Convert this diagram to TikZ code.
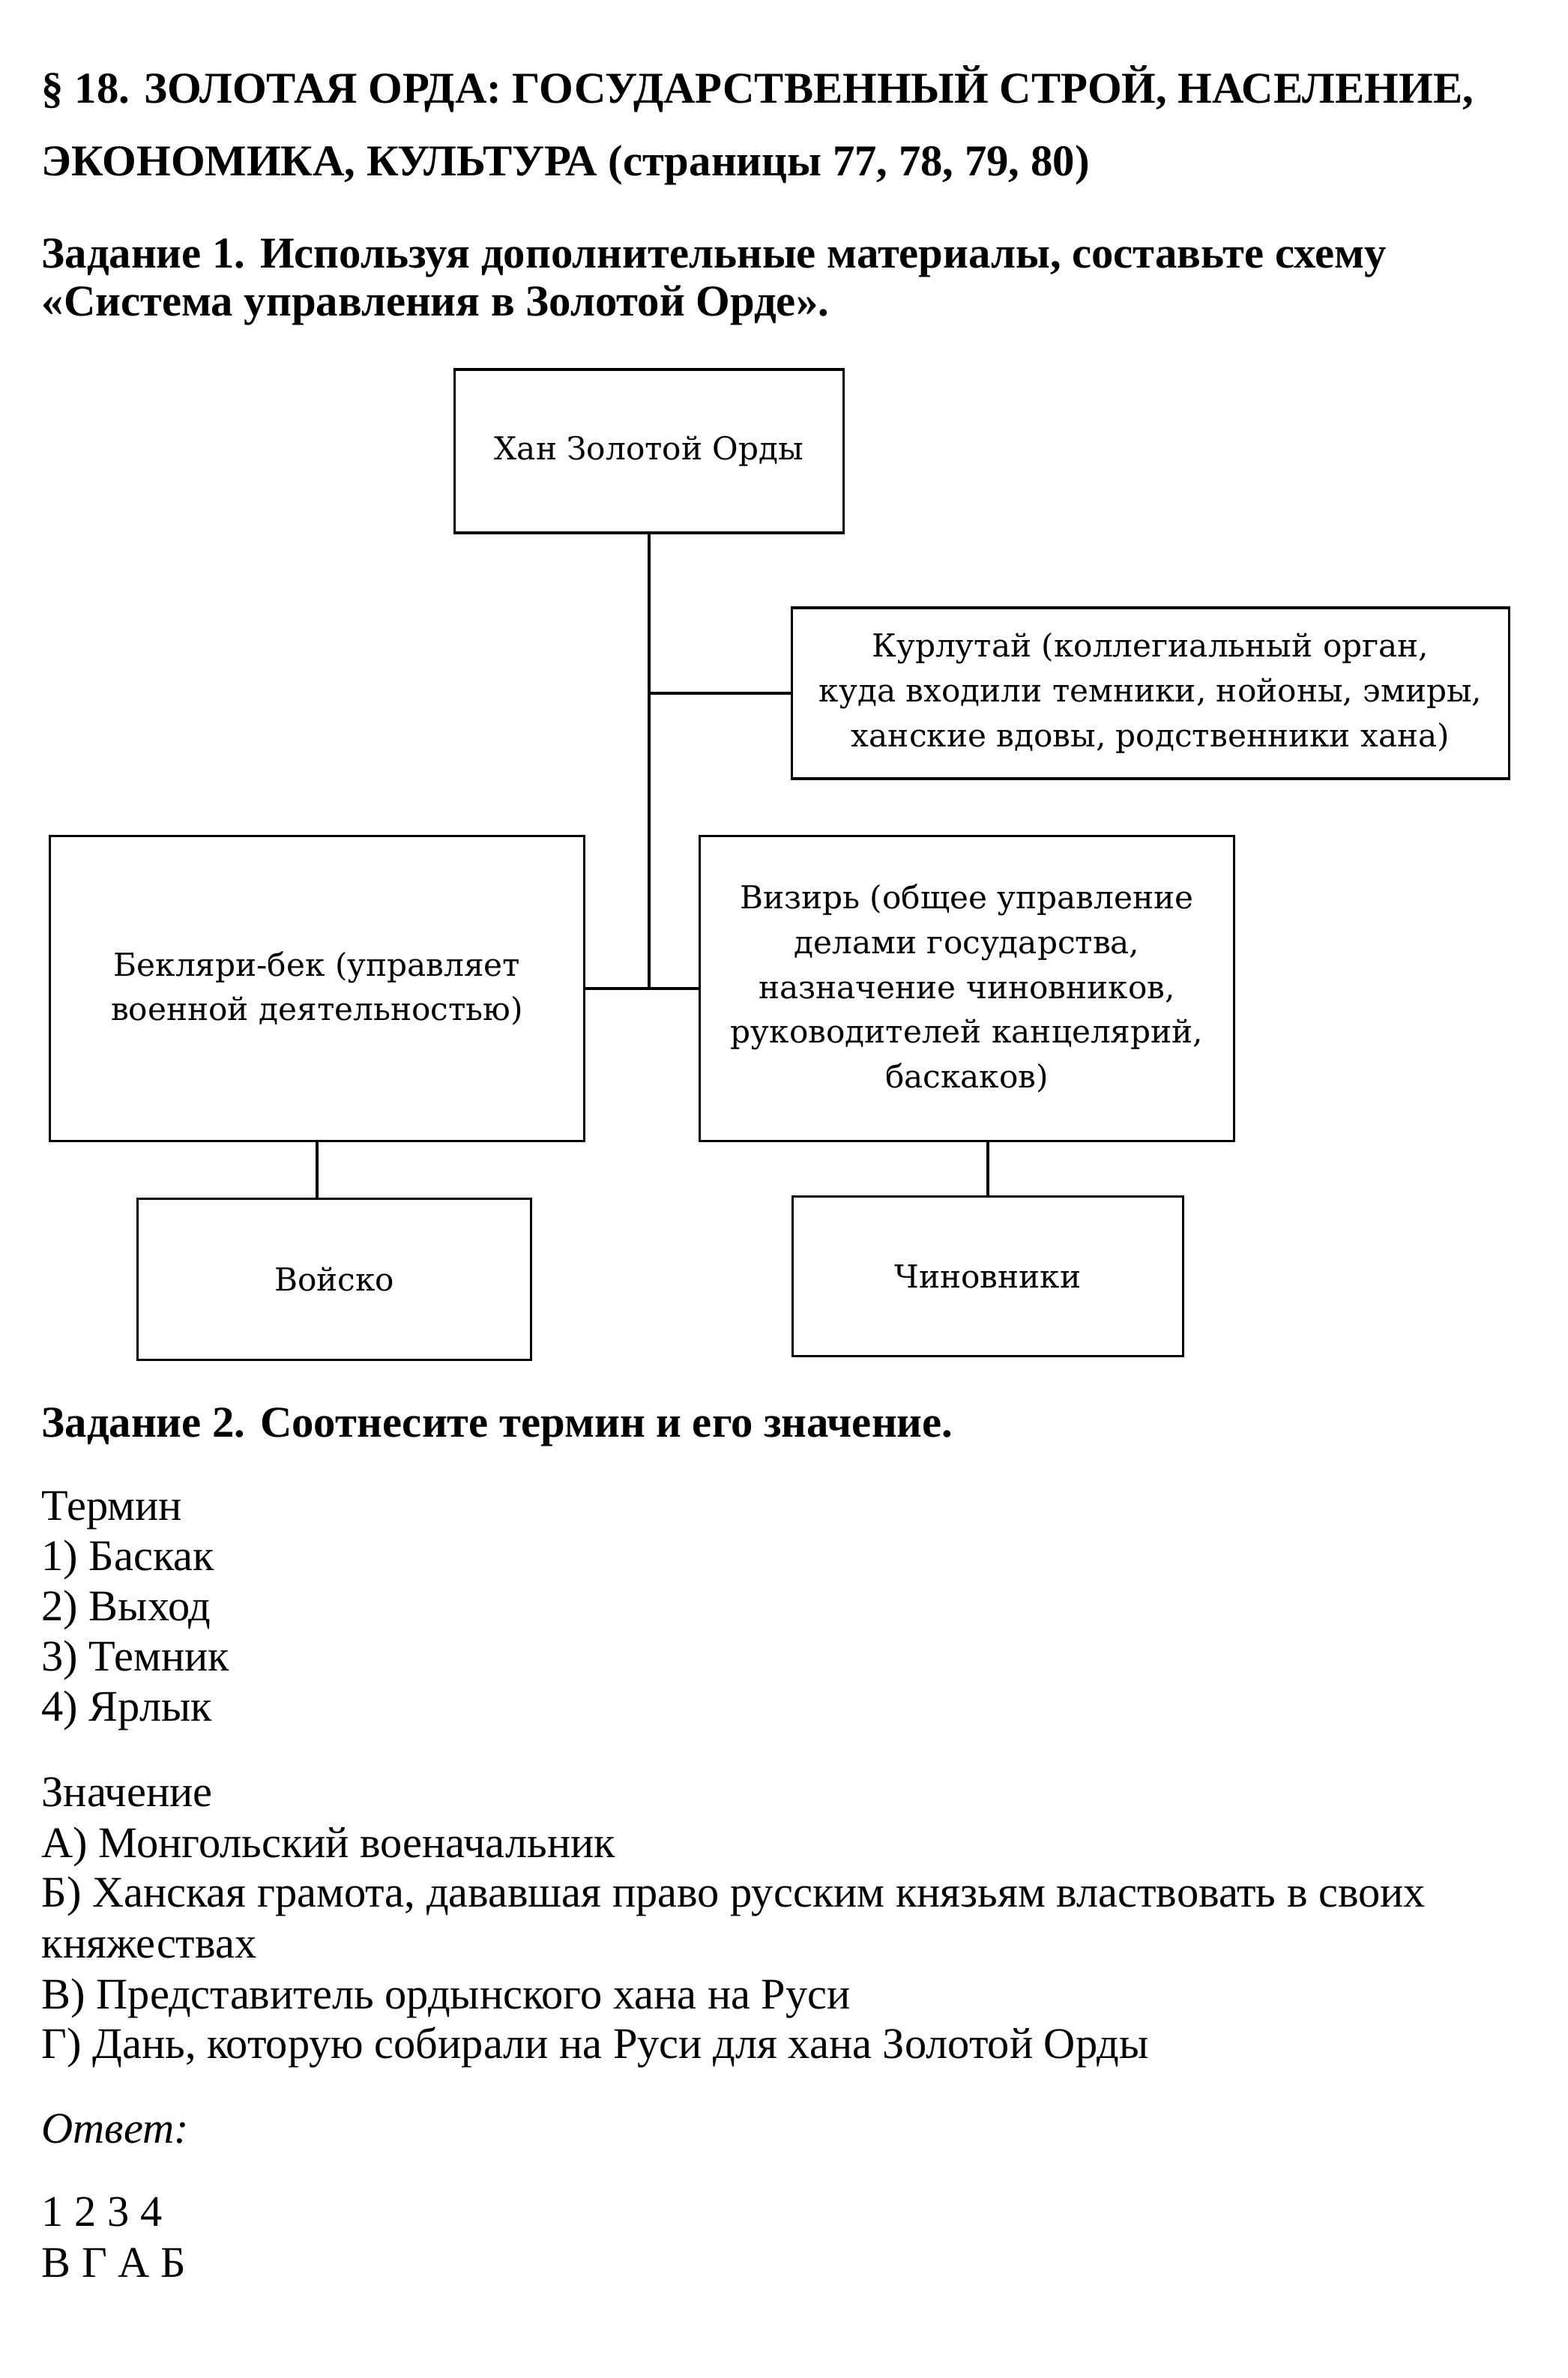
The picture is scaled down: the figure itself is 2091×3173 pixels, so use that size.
\documentclass[tikz,border=0pt]{standalone}
\usepackage{fontspec}
\setmainfont{Liberation Serif}
\newfontfamily\boxfont{DejaVu Serif}

\begin{document}
\begin{tikzpicture}[
  x=0.01cm, y=-0.01cm,
  orgbox/.style={rectangle, draw, line width=0.9pt, align=center, inner sep=0pt, font=\boxfont\fontsize{12}{17}\selectfont},
  link/.style={line width=0.9pt},
  txt/.style={anchor=base west, inner sep=0pt, font=\fontsize{16.6}{19}\selectfont},
  hdr/.style={anchor=base west, inner sep=0pt, font=\fontsize{16.7}{19}\selectfont\bfseries}
]
\useasboundingbox[fill=white] (0,0) rectangle (2091,3173);

% headings
\node[hdr] (h1) at (55,138) {§ 18. ЗОЛОТАЯ ОРДА: ГОСУДАРСТВЕННЫЙ СТРОЙ, НАСЕЛЕНИЕ,};
\node[hdr] (h2) at (55,235) {ЭКОНОМИКА, КУЛЬТУРА (страницы 77, 78, 79, 80)};
\node[hdr] (t1a) at (55,357) {Задание 1. Используя дополнительные материалы, составьте схему};
\node[hdr] (t1b) at (55,422) {«Система управления в Золотой Орде».};

% scheme
\node[orgbox, minimum width=5.18cm, minimum height=2.18cm] (khan) at (866,602) {Хан Золотой Орды};
\node[orgbox, minimum width=9.56cm, minimum height=2.28cm] (kurultai) at (1535,925)
  {Курлутай (коллегиальный орган,\\куда входили темники, нойоны, эмиры,\\ханские вдовы, родственники хана)};
\node[orgbox, minimum width=7.13cm, minimum height=4.06cm] (beklyari) at (423,1319)
  {Бекляри-бек (управляет\\военной деятельностью)};
\node[orgbox, minimum width=7.13cm, minimum height=4.06cm] (vizir) at (1290,1319)
  {Визирь (общее управление\\делами государства,\\назначение чиновников,\\руководителей канцелярий,\\баскаков)};
\node[orgbox, minimum width=5.24cm, minimum height=2.15cm] (voysko) at (446,1707) {Войско};
\node[orgbox, minimum width=5.20cm, minimum height=2.13cm] (chin) at (1318,1703) {Чиновники};

\coordinate (jmid) at (khan.south |- beklyari.east);
\coordinate (jkur) at (khan.south |- kurultai.west);
\draw[link] (khan.south) -- (jmid);
\draw[link] (jkur) -- (kurultai.west);
\draw[link] (beklyari.east) -- (vizir.west);
\draw[link] (beklyari.south) -- (beklyari.south |- voysko.north);
\draw[link] (chin.north |- vizir.south) -- (chin.north);

% task 2
\node[hdr] (t2) at (55,1917) {Задание 2. Соотнесите термин и его значение.};
\node[txt] (term) at (55,2028) {Термин};
\node[txt] (term1) at (55,2095) {1) Баскак};
\node[txt] (term2) at (55,2162) {2) Выход};
\node[txt] (term3) at (55,2229) {3) Темник};
\node[txt] (term4) at (55,2296) {4) Ярлык};
\node[txt] (mean) at (55,2410) {Значение};
\node[txt] (meanA) at (55,2478) {А) Монгольский военачальник};
\node[txt] (meanB) at (55,2544) {Б) Ханская грамота, дававшая право русским князьям властвовать в своих};
\node[txt] (meanB2) at (55,2612) {княжествах};
\node[txt] (meanC) at (55,2680) {В) Представитель ордынского хана на Руси};
\node[txt] (meanD) at (55,2746) {Г) Дань, которую собирали на Руси для хана Золотой Орды};
\node[txt, font=\fontsize{16.6}{19}\selectfont\itshape] (ans) at (55,2859) {Ответ:};
\node[txt] (ansnum) at (55,2970) {1 2 3 4};
\node[txt] (anslet) at (55,3038) {В Г А Б};
\end{tikzpicture}
\end{document}
